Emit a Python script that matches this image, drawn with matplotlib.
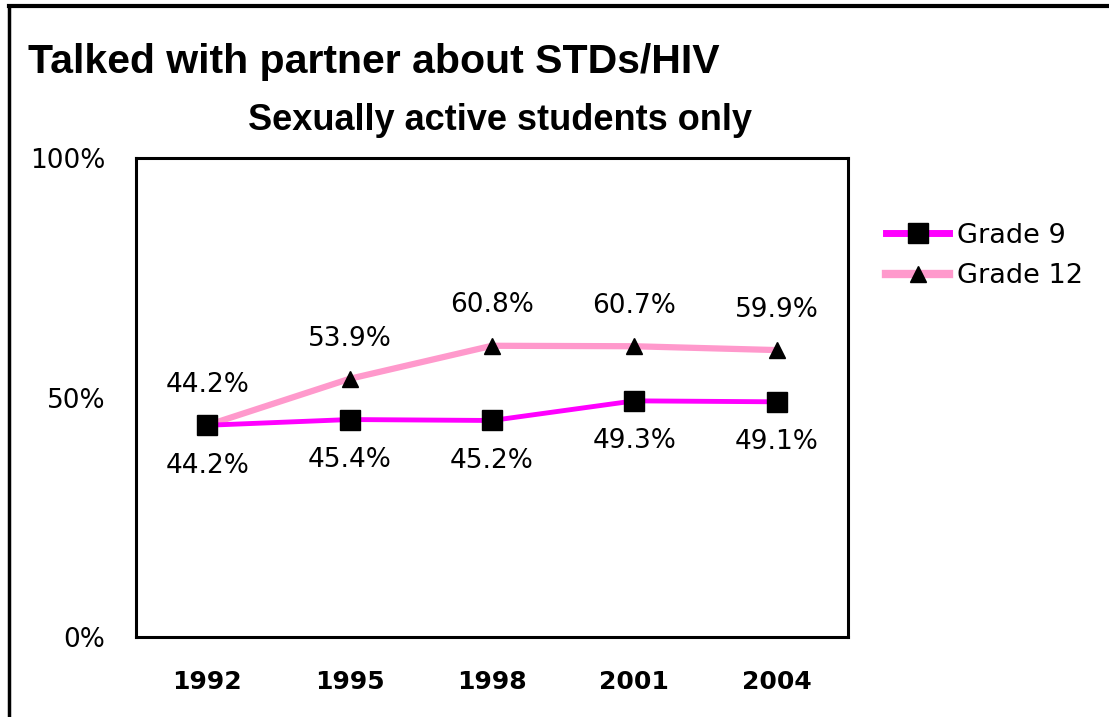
import numpy as np
import matplotlib.pyplot as plt
from matplotlib.lines import Line2D

years = ['1992', '1995', '1998', '2001', '2004']
grade9 = [44.2, 45.4, 45.2, 49.3, 49.1]
grade12 = [44.2, 53.9, 60.8, 60.7, 59.9]
yticks = [0, 50, 100]

fig = plt.figure(figsize=(11.09, 7.17), dpi=100)
ax = fig.add_axes([136/1109, 1 - 637/717, 712/1109, 479/717])

x = np.arange(len(years))
ax.plot(x, grade12, color='#FF99CC', lw=4.5, marker='^', ms=11,
        mfc='black', mec='black', label='Grade 12', zorder=3)
ax.plot(x, grade9, color='#FF00FF', lw=3.5, marker='s', ms=14,
        mfc='black', mec='black', label='Grade 9', zorder=4)

for i in range(len(years)):
    ax.annotate(f'{grade12[i]:.1f}%', (x[i], grade12[i]), xytext=(0, 29),
                textcoords='offset points', ha='center', va='center', fontsize=19)
    ax.annotate(f'{grade9[i]:.1f}%', (x[i], grade9[i]), xytext=(0, -29),
                textcoords='offset points', ha='center', va='center', fontsize=19)

ax.set_xlim(-0.5, len(years) - 0.5)
ax.set_ylim(0, 100)
ax.set_xticks(x)
ax.set_xticklabels(years, fontsize=18, fontweight='bold')
ax.set_yticks(yticks)
ax.set_yticklabels([f'{v}%' for v in yticks], fontsize=19)
ax.tick_params(length=0)
ax.tick_params(axis='y', pad=22)
ax.tick_params(axis='x', pad=24)
for s in ax.spines.values():
    s.set_linewidth(2.2)

handles = [Line2D([], [], color='#FF00FF', lw=5, marker='s', ms=14, mfc='black', mec='black'),
           Line2D([], [], color='#FF99CC', lw=6, marker='^', ms=11, mfc='black', mec='black')]
fig.legend(handles, ['Grade 9', 'Grade 12'], loc='center left',
           bbox_to_anchor=(862/1109, 1 - 256/717), frameon=False, fontsize=19.5,
           handlelength=2.3, handletextpad=0.3, labelspacing=0.55)

fig.text(28/1109, 1 - 62/717, 'Talked with partner about STDs/HIV', fontsize=29.5,
         fontweight='bold', family='Liberation Sans', va='center', ha='left')
fig.text(500/1109, 1 - 121/717, 'Sexually active students only', fontsize=26,
         fontweight='bold', family='Liberation Sans', va='center', ha='center')

# border on top and left
fig.add_artist(Line2D([9/1109, 1], [1 - 6/717, 1 - 6/717], color='black', lw=3,
                      transform=fig.transFigure))
fig.add_artist(Line2D([9/1109, 9/1109], [0, 1 - 6/717], color='black', lw=2.5,
                      transform=fig.transFigure))

fig.savefig('out.png', dpi=100)
